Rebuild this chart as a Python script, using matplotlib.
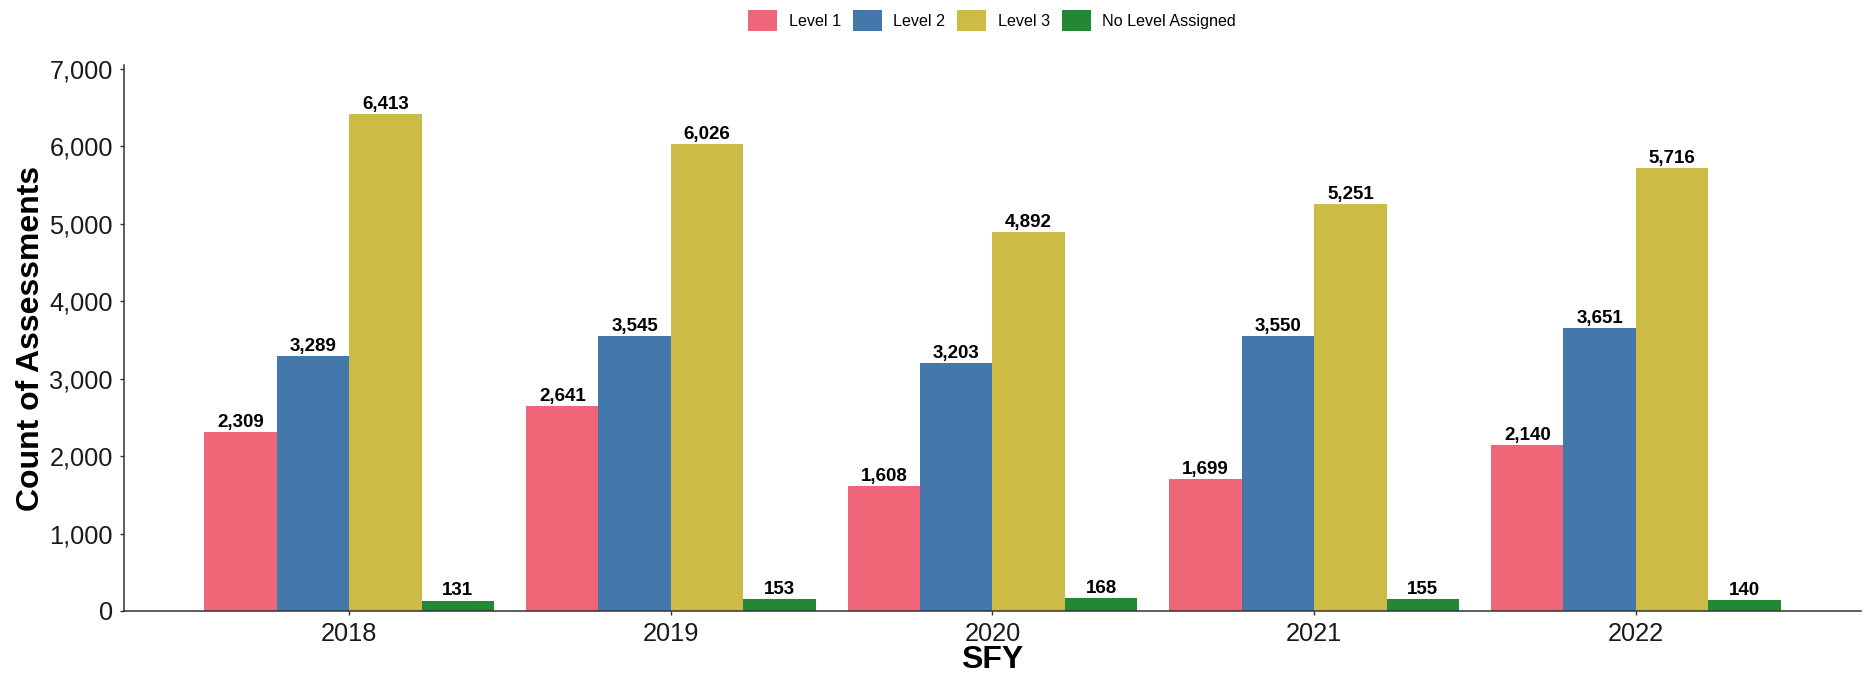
#!/usr/bin/env python3
import numpy as np
import matplotlib
matplotlib.use("Agg")
import matplotlib.pyplot as plt

# Data
years = ["2018", "2019", "2020", "2021", "2022"]
levels = ["Level 1", "Level 2", "Level 3", "No Level Assigned"]
level1 = [2309, 2641, 1608, 1699, 2140]
level2 = [3289, 3545, 3203, 3550, 3651]
level3 = [6413, 6026, 4892, 5251, 5716]
no_level = [131, 153, 168, 155, 140]
colors = ["#EE6677", "#4477AA", "#CCBB44", "#228833"]

plt.rcParams['font.family'] = ['Liberation Sans', 'DejaVu Sans']

my_dpi = 100
fig = plt.figure(figsize=(1864 / my_dpi, 680 / my_dpi), dpi=my_dpi)
ax = fig.add_axes([124 / 1864, 1 - 611 / 680, (1861 - 124) / 1864, (611 - 65) / 680])

x = np.arange(len(years))
width = 0.225
series = [level1, level2, level3, no_level]
for i, (vals, lab, col) in enumerate(zip(series, levels, colors)):
    offs = (i - 1.5) * width
    bars = ax.bar(x + offs, vals, width, color=col, label=lab, linewidth=0)
    ax.bar_label(bars, labels=[f"{v:,}" for v in vals], padding=1,
                 fontsize=13.5, fontweight='bold', color='black')

ax.set_xlim(-0.7, 4.7)
ax.set_ylim(0, 7050)
ax.set_xticks(x)
ax.set_xticklabels(years)
ax.set_yticks(np.arange(0, 7001, 1000))
ax.yaxis.set_major_formatter(matplotlib.ticker.FuncFormatter(lambda v, p: f"{int(v):,}"))

for s in ['top', 'right']:
    ax.spines[s].set_visible(False)
for s in ['left', 'bottom']:
    ax.spines[s].set_linewidth(1.1)
    ax.spines[s].set_color('#333333')
ax.tick_params(axis='both', length=3, width=1, color='#333333',
               labelsize=18.3, labelcolor='#1a1a1a', pad=5)

ax.set_ylabel("Count of Assessments", fontsize=23, fontweight='bold')
ax.set_xlabel("SFY", fontsize=23, fontweight='bold')
ax.yaxis.set_label_coords(-0.0535, 0.5)
ax.xaxis.set_label_coords(0.5, -0.09)
ax.xaxis.label.set_va('center')
ax.yaxis.label.set_va('center')

fig.legend(loc='center', bbox_to_anchor=(992 / 1864, 1 - 20.5 / 680), ncol=4,
           frameon=False, fontsize=11.6, handlelength=1.8, handleheight=1.68,
           handletextpad=0.7, columnspacing=0.75, borderpad=0)

fig.savefig("out.png", dpi=my_dpi)
